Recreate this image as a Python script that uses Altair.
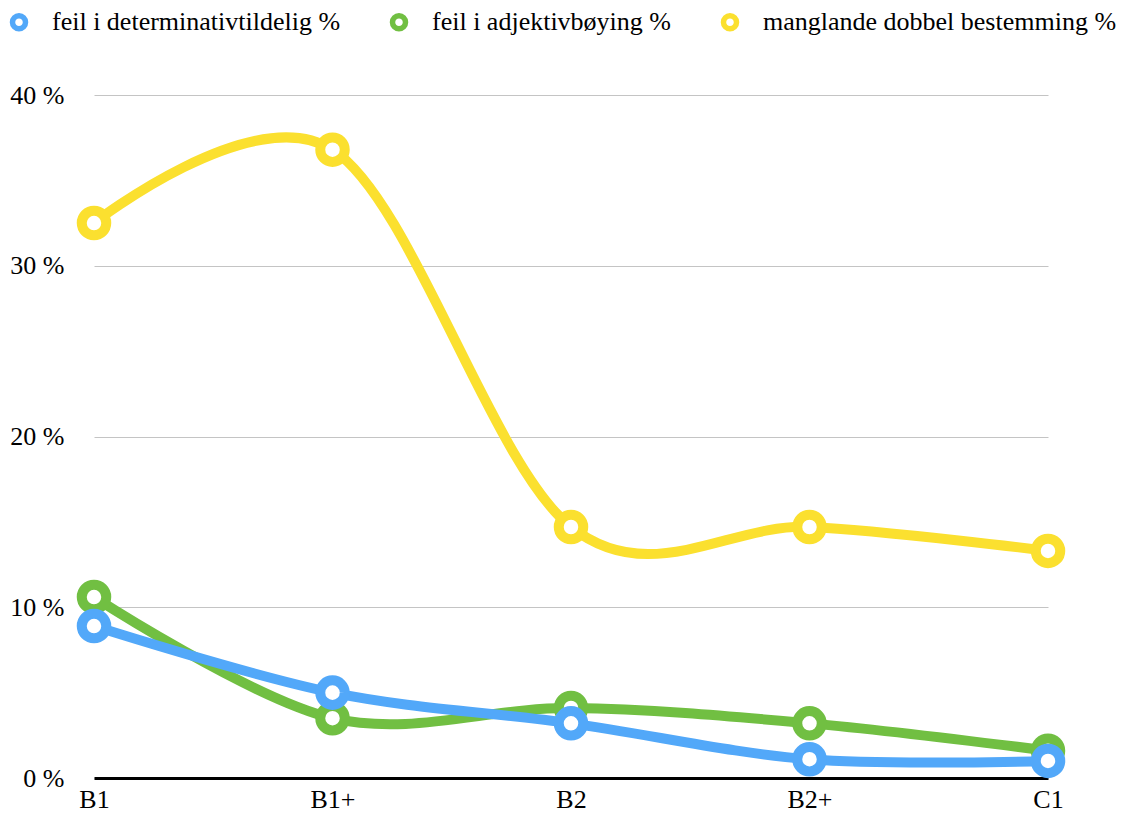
import altair as alt
import pandas as pd

# CEFR levels along the x axis
levels = ["B1", "B1+", "B2", "B2+", "C1"]

# Series names (legend order) and their colours
series = [
    "feil i determinativtildelig %",
    "feil i adjektivbøying %",
    "manglande dobbel bestemming %",
]
colors = ["#52A8F9", "#71BF42", "#FBE02F"]

# Percentages per level
determinativ = [8.9, 5.0, 3.2, 1.1, 1.0]
adjektiv = [10.6, 3.5, 4.1, 3.2, 1.6]
dobbel = [32.5, 36.8, 14.7, 14.7, 13.3]

# Build a long table; the blue series goes last so it is drawn on top
rows = []
for name, vals, draw in [
    (series[2], dobbel, 0),
    (series[1], adjektiv, 1),
    (series[0], determinativ, 2),
]:
    for lvl, v in zip(levels, vals):
        rows.append({"nivå": lvl, "serie": name, "verdi": v, "rekkjefølgje": draw})
df = pd.DataFrame(rows)

FONT = "Liberation Serif"

x = alt.X(
    "nivå:N",
    sort=levels,
    scale=alt.Scale(type="point", padding=0),
    axis=alt.Axis(
        title=None,
        labelAngle=0,
        labelFont=FONT,
        labelFontSize=26,
        labelColor="#000000",
        labelPadding=8,
        ticks=False,
        domainColor="#000000",
        domainWidth=3,
        grid=False,
    ),
)
y = alt.Y(
    "verdi:Q",
    scale=alt.Scale(domain=[0, 40], nice=False, zero=True),
    axis=alt.Axis(
        title=None,
        values=[0, 10, 20, 30, 40],
        labelExpr="datum.value + ' %'",
        labelFont=FONT,
        labelFontSize=26,
        labelColor="#000000",
        labelPadding=30,
        ticks=False,
        domain=False,
        grid=True,
        gridColor="#C4C4C4",
        gridWidth=1,
    ),
)
color = alt.Color(
    "serie:N",
    scale=alt.Scale(domain=series, range=colors),
    legend=alt.Legend(
        title=None,
        orient="none",
        direction="horizontal",
        legendX=-88,
        legendY=-86,
        padding=0,
        labelFont=FONT,
        labelFontSize=26,
        labelColor="#000000",
        labelLimit=0,
        labelOffset=20,
        columnPadding=40,
        symbolType="circle",
        symbolSize=170,
        symbolStrokeWidth=5.5,
        symbolFillColor="#FFFFFF",
    ),
)

base = alt.Chart(df).encode(x=x, y=y, color=color)

lines = base.mark_line(interpolate="cardinal", strokeWidth=10).encode(
    order=alt.Order("rekkjefølgje:Q")
)
points = base.mark_point(
    shape="circle", size=600, strokeWidth=10, filled=False, fill="#FFFFFF", opacity=1
).encode(order=alt.Order("rekkjefølgje:Q"))

chart = (
    alt.layer(lines, points)
    .properties(
        width=954,
        height=683,
        autosize=alt.AutoSizeParams(type="none"),
        padding={"left": 94, "top": 95, "right": 95, "bottom": 36},
        background="#FFFFFF",
    )
    .configure_view(stroke=None)
)

chart.save("out.html", embed_options={"renderer": "svg", "actions": False})
